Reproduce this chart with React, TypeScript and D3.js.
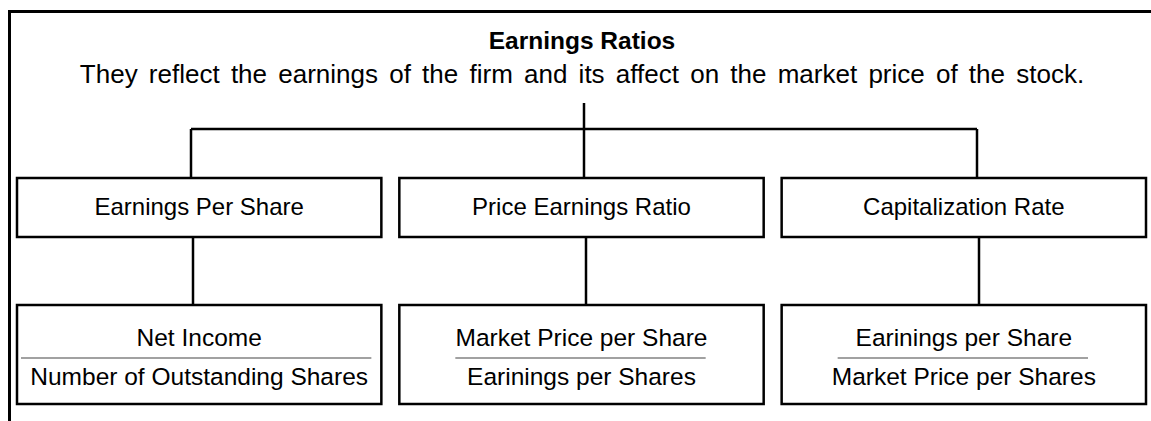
import React from 'react';
import * as d3 from 'd3';

// Diagram content
const title = 'Earnings Ratios';
const subtitle = 'They reflect the earnings of the firm and its affect on the market price of the stock.';
const ratios = ['Earnings Per Share', 'Price Earnings Ratio', 'Capitalization Rate'];
const numerators = ['Net Income', 'Market Price per Share', 'Earinings per Share'];
const denominators = ['Number of Outstanding Shares', 'Earinings per Shares', 'Market Price per Shares'];

const W = 1151;
const H = 421;
const FONT = '"Liberation Sans", Arial, sans-serif';

const App = () => {
  // columns for the boxes
  const x = d3.scaleBand<string>().domain(ratios).range([17, 1146]).paddingInner(0.047);
  // connector positions
  const cx = d3.scalePoint<string>().domain(ratios).range([191, 977]);

  const hubX = (cx(ratios[0])! + cx(ratios[2])!) / 2;
  const row1 = { top: 178, bottom: 237 };
  const row2 = { top: 305, bottom: 404 };
  const busY = 129;

  return (
    <div style={{ position: 'absolute', left: 0, top: 0 }}>
      <svg width={W} height={H} style={{ display: 'block', background: '#fff' }}>
        {/* outer frame (top + left edge) */}
        <path d={`M9.5,${H} V11.5 H${W}`} fill="none" stroke="#000" strokeWidth={3} />

        <text x={582} y={49} textAnchor="middle" fontFamily={FONT} fontWeight="bold" fontSize={24.5}>
          {title}
        </text>
        <text x={582} y={83} textAnchor="middle" fontFamily={FONT} fontSize={26}
          style={{ wordSpacing: '4px' }}>
          {subtitle}
        </text>

        {/* tree connectors */}
        <g stroke="#000" strokeWidth={2.5} fill="none">
          <line x1={hubX} x2={hubX} y1={103} y2={busY} />
          <line x1={cx(ratios[0])} x2={cx(ratios[2])} y1={busY} y2={busY} />
          {ratios.map(r => (
            <line key={r} x1={cx(r)} x2={cx(r)} y1={busY} y2={row1.top} />
          ))}
          {ratios.map(r => (
            <line key={r + '-2'} x1={cx(r)! + 2} x2={cx(r)! + 2} y1={row1.bottom} y2={row2.top} />
          ))}
        </g>

        {/* first row: ratio names */}
        {ratios.map(r => (
          <g key={r}>
            <rect x={x(r)} y={row1.top} width={x.bandwidth()} height={row1.bottom - row1.top}
              fill="#fff" stroke="#000" strokeWidth={2.5} />
            <text x={x(r)! + x.bandwidth() / 2} y={215} textAnchor="middle" fontFamily={FONT} fontSize={24}>
              {r}
            </text>
          </g>
        ))}

        {/* second row: formulas */}
        {ratios.map((r, i) => (
          <g key={r + '-f'}>
            <rect x={x(r)} y={row2.top} width={x.bandwidth()} height={row2.bottom - row2.top}
              fill="#fff" stroke="#000" strokeWidth={2.5} />
            <text x={x(r)! + x.bandwidth() / 2} y={346} textAnchor="middle" fontFamily={FONT} fontSize={24.5}>
              {numerators[i]}
            </text>
            <line
              x1={x(r)! + (i === 0 ? 4 : 56)}
              x2={x(r)! + x.bandwidth() - (i === 0 ? 10 : 58)}
              y1={358} y2={358} stroke="#444" strokeWidth={1.2} />
            <text x={x(r)! + x.bandwidth() / 2} y={385} textAnchor="middle" fontFamily={FONT} fontSize={24.5}>
              {denominators[i]}
            </text>
          </g>
        ))}
      </svg>
    </div>
  );
};

export default App;
